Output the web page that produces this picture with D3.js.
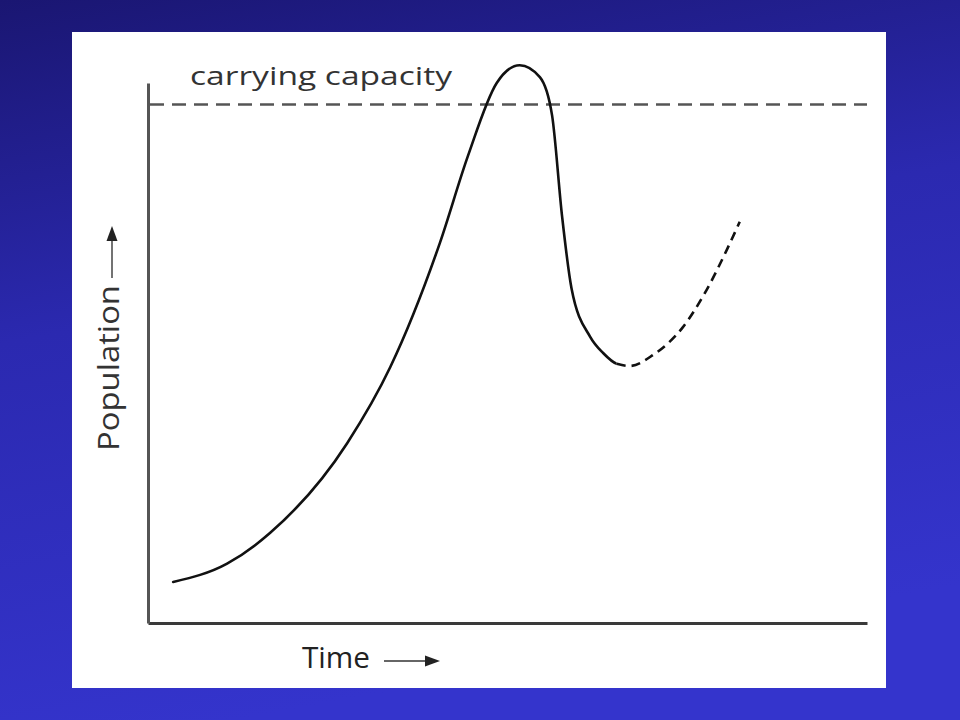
<!DOCTYPE html>
<html><head><meta charset="utf-8">
<script src="https://cdn.jsdelivr.net/npm/d3@7"></script>
<style>html,body{margin:0;padding:0;background:#2a28a8;}svg{display:block;}</style>
</head><body>
<script>
// Data (conceptual units: time 0-100, population 0-100 at axis top)
const carryingCapacity = 96;
const solidTime = [3.5, 11.0, 17.0, 27.7, 33.7, 40.6, 44.5, 48.5, 51.7, 54.5, 56.2, 57.6, 58.9, 61.5, 63.3, 65.2];
const solidPop  = [7.6, 11.0, 16.7, 33.3, 47.4, 70.4, 86.5, 100.0, 103.3, 101.1, 94.0, 75.2, 62.0, 53.0, 50.0, 48.0];
const dashTime = [65.2, 67.0, 70.2, 74.4, 77.7, 80.5, 82.3];
const dashPop  = [48.0, 47.6, 49.6, 54.8, 61.7, 69.1, 74.3];
const labels = {cap: "carrying capacity", x: "Time", y: "Population"};

const W = 960, H = 720;
const svg = d3.select("body").append("svg").attr("width", W).attr("height", H);
const defs = svg.append("defs");
const g = defs.append("linearGradient").attr("id","bg").attr("x1","0").attr("y1","0").attr("x2","0.25").attr("y2","1");
g.append("stop").attr("offset","0").attr("stop-color","#1a1672");
g.append("stop").attr("offset","0.45").attr("stop-color","#2b29b0");
g.append("stop").attr("offset","1").attr("stop-color","#3434cc");
svg.append("rect").attr("width",W).attr("height",H).attr("fill","url(#bg)");

// White panel
svg.append("rect").attr("x",72).attr("y",32).attr("width",814).attr("height",656).attr("fill","#ffffff");

const x = d3.scaleLinear().domain([0,100]).range([148,867]);
const y = d3.scaleLinear().domain([0,100]).range([623,83]);

// Axes (no ticks)
svg.append("g").attr("transform",`translate(0,${y(0)})`)
  .call(d3.axisBottom(x).tickValues([]).tickSizeOuter(0))
  .call(s=>s.select(".domain").attr("stroke","#3a3a3a").attr("stroke-width",3));
svg.append("g").attr("transform",`translate(${x(0)},0)`)
  .call(d3.axisLeft(y).tickValues([]).tickSizeOuter(0))
  .call(s=>s.select(".domain").attr("stroke","#555").attr("stroke-width",3));

// Carrying capacity dashed line
svg.append("line").attr("x1",x(0)+2).attr("x2",x(100)).attr("y1",y(carryingCapacity)).attr("y2",y(carryingCapacity))
  .attr("stroke","#555").attr("stroke-width",2.5).attr("stroke-dasharray","14,8");
svg.append("text").attr("x",190).attr("y",85).attr("font-family","'Open Sans', 'DejaVu Sans', sans-serif")
  .attr("font-size",25).attr("fill","#333").attr("textLength",262).attr("lengthAdjust","spacingAndGlyphs").text(labels.cap);

// One continuous curve; solid part up to the split, dashed after (via clip paths)
const split = solidTime[solidTime.length-1];
const allPts = d3.zip(solidTime, solidPop).concat(d3.zip(dashTime, dashPop).slice(1));
defs.append("clipPath").attr("id","cSolid").append("rect").attr("x",0).attr("y",0).attr("width",x(split)).attr("height",H);
defs.append("clipPath").attr("id","cDash").append("rect").attr("x",x(split)).attr("y",0).attr("width",W).attr("height",H);
const line = d3.line().x(d=>x(d[0])).y(d=>y(d[1])).curve(d3.curveMonotoneX);
svg.append("path").attr("d", line(allPts)).attr("clip-path","url(#cSolid)")
  .attr("fill","none").attr("stroke","#111").attr("stroke-width",2.6).attr("stroke-linecap","round");
svg.append("path").attr("d", line(d3.zip(dashTime, dashPop))).attr("clip-path","url(#cDash)")
  .attr("fill","none").attr("stroke","#111").attr("stroke-width",2.6).attr("stroke-dasharray","9,6");
</script>
<script>
// Axis labels with arrows
const svg2 = d3.select("svg");
svg2.append("text").attr("x",302).attr("y",668).attr("font-family","'Open Sans', 'DejaVu Sans', sans-serif")
  .attr("font-size",30).attr("fill","#222").attr("textLength",68).attr("lengthAdjust","spacingAndGlyphs").text(labels.x);
svg2.append("line").attr("x1",384).attr("x2",428).attr("y1",661).attr("y2",661).attr("stroke","#333").attr("stroke-width",1.5);
svg2.append("path").attr("d","M440,661 L425,655.5 L425,666.5 Z").attr("fill","#222");
svg2.append("text").attr("transform","translate(119,451) rotate(-90)").attr("font-family","'Open Sans', 'DejaVu Sans', sans-serif")
  .attr("font-size",29).attr("fill","#333").attr("textLength",166).attr("lengthAdjust","spacingAndGlyphs").text(labels.y);
svg2.append("line").attr("x1",112).attr("x2",112).attr("y1",278).attr("y2",238).attr("stroke","#444").attr("stroke-width",1.5);
svg2.append("path").attr("d","M112,226 L106.5,241 L117.5,241 Z").attr("fill","#222");
</script>
</body></html>
